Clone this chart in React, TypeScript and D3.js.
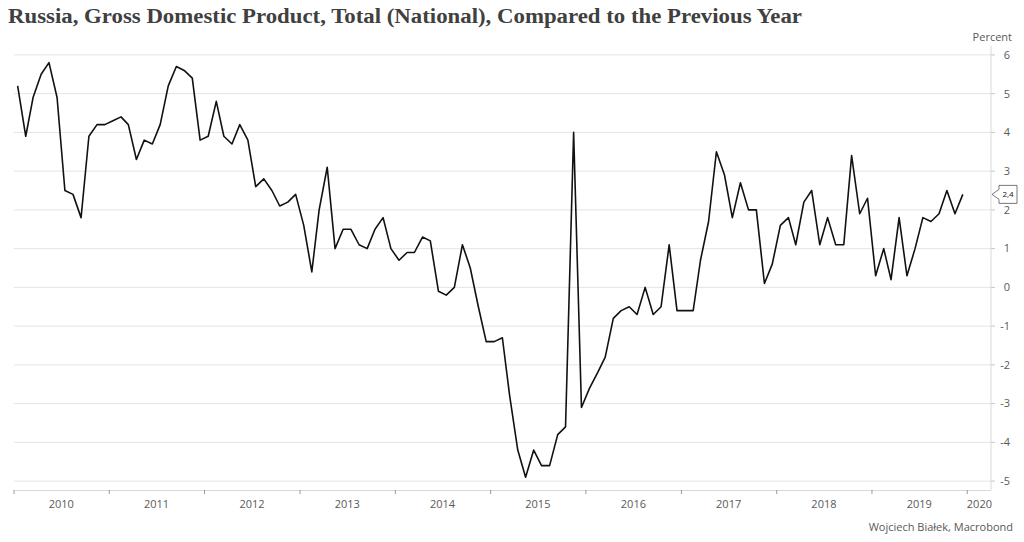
import React from "react";
import * as d3 from "d3";

const startYear = 2010;
const gdpValues: number[] = [
  5.2, 3.9, 4.9, 5.5, 5.8, 4.9, 2.5, 2.4, 1.8, 3.9, 4.2, 4.2,
  4.3, 4.4, 4.2, 3.3, 3.8, 3.7, 4.2, 5.2, 5.7, 5.6, 5.4, 3.8,
  3.9, 4.8, 3.9, 3.7, 4.2, 3.8, 2.6, 2.8, 2.5, 2.1, 2.2, 2.4,
  1.6, 0.4, 2.0, 3.1, 1.0, 1.5, 1.5, 1.1, 1.0, 1.5, 1.8, 1.0,
  0.7, 0.9, 0.9, 1.3, 1.2, -0.1, -0.2, 0.0, 1.1, 0.5, -0.5, -1.4,
  -1.4, -1.3, -2.8, -4.2, -4.9, -4.2, -4.6, -4.6, -3.8, -3.6, 4.0, -3.1,
  -2.6, -2.2, -1.8, -0.8, -0.6, -0.5, -0.7, 0.0, -0.7, -0.5, 1.1, -0.6,
  -0.6, -0.6, 0.7, 1.7, 3.5, 2.9, 1.8, 2.7, 2.0, 2.0, 0.1, 0.6,
  1.6, 1.8, 1.1, 2.2, 2.5, 1.1, 1.8, 1.1, 1.1, 3.4, 1.9, 2.3,
  0.3, 1.0, 0.2, 1.8, 0.3, 1.0, 1.8, 1.7, 1.9, 2.5, 1.9, 2.4,
];
const yearLabels = ["2010", "2011", "2012", "2013", "2014", "2015", "2016", "2017", "2018", "2019", "2020"];
const yTicks = [-5, -4, -3, -2, -1, 0, 1, 2, 3, 4, 5, 6];

const title = "Russia, Gross Domestic Product, Total (National), Compared to the Previous Year";
const unitLabel = "Percent";
const sourceLabel = "Wojciech Białek, Macrobond";

const W = 1024;
const H = 542;
const left = 14;
const right = 991;
const top = 46;
const bottom = 490;
const font = "'Open Sans', 'Noto Sans', sans-serif";
const textColor = "#595959";

export default function App() {
  const data = gdpValues.map((v, i) => ({
    date: new Date(startYear, i, 15),
    value: v,
  }));
  const x = d3
    .scaleTime()
    .domain([new Date(2010, 0, 1), new Date(2020, 3, 1)])
    .range([left, right]);
  const y = d3.scaleLinear().domain([-5.23, 6.23]).range([bottom, top]);

  const line = d3
    .line<{ date: Date; value: number }>()
    .x((d) => x(d.date))
    .y((d) => y(d.value));

  const last = data[data.length - 1];
  const ly = y(last.value);
  const bx = 999;
  const bw = 18;
  const bh = 18;

  return (
    <svg width={W} height={H} style={{ display: "block", position: "absolute", left: 0, top: 0 }}>
      <rect width={W} height={H} fill="#fff" />
      <text
        x={8}
        y={23}
        fontFamily="'Liberation Serif', 'DejaVu Serif', serif"
        fontWeight="bold"
        fontSize={20}
        fill="#404040"
        textLength={794}
        lengthAdjust="spacingAndGlyphs"
      >
        {title}
      </text>

      {yTicks.map((t) => (
        <g key={t}>
          <line x1={left} x2={right} y1={y(t)} y2={y(t)} stroke="#e4e4e4" strokeWidth={1} />
          <line x1={right} x2={right + 4} y1={y(t)} y2={y(t)} stroke="#c8c8c8" strokeWidth={1} />
          <text
            x={1010}
            y={y(t)}
            dy="0.35em"
            textAnchor="end"
            fontFamily={font}
            fontSize={11}
            fill={textColor}
          >
            {String(t)}
          </text>
        </g>
      ))}
      <line x1={right} x2={right} y1={top} y2={bottom} stroke="#d9d9d9" strokeWidth={1} />
      <text x={1012} y={41} textAnchor="end" fontFamily={font} fontSize={11} fill={textColor}>
        {unitLabel}
      </text>

      <line x1={left} x2={right} y1={bottom + 0.5} y2={bottom + 0.5} stroke="#d9d9d9" strokeWidth={1} />
      {yearLabels.map((yl, i) => {
        const yr = +yl;
        const tx = x(new Date(yr, 0, 1));
        const mid = x(new Date(yr, 6, 1));
        const isLast = i === yearLabels.length - 1;
        return (
          <g key={yl}>
            <line x1={tx} x2={tx} y1={bottom} y2={bottom + 4} stroke="#999" strokeWidth={1} />
            <text
              x={isLast ? right + 1 : mid}
              y={508}
              textAnchor={isLast ? "end" : "middle"}
              fontFamily={font}
              fontSize={11}
              fill={textColor}
            >
              {yl}
            </text>
          </g>
        );
      })}

      <path d={line(data) || ""} fill="none" stroke="#111" strokeWidth={1.6} strokeLinejoin="round" />

      <path
        d={`M${right + 1},${ly} L${bx},${ly - 5} L${bx},${ly - bh / 2} L${bx + bw},${ly - bh / 2} L${bx + bw},${ly + bh / 2} L${bx},${ly + bh / 2} L${bx},${ly + 5} Z`}
        fill="#fff"
        stroke="#555"
        strokeWidth={0.8}
      />
      <text
        x={bx + bw / 2}
        y={ly}
        dy="0.35em"
        textAnchor="middle"
        fontFamily={font}
        fontSize={8}
        fill="#111"
      >
        {String(last.value).replace(".", ",")}
      </text>

      <text x={1013} y={531} textAnchor="end" fontFamily={font} fontSize={11} fill={textColor}>
        {sourceLabel}
      </text>
    </svg>
  );
}
